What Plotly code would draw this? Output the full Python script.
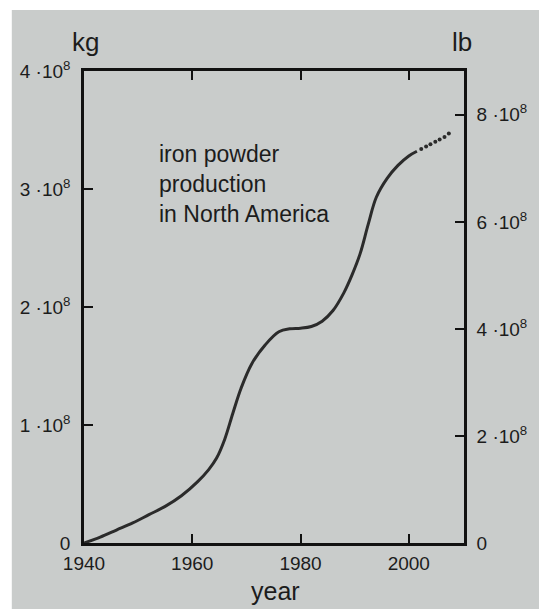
import plotly.graph_objects as go

# ---- data ----
years = [1940, 1943, 1946, 1949, 1952, 1955, 1958, 1961, 1963, 1964.5, 1966, 1967.5,
         1969, 1971, 1973.5, 1976, 1978, 1980, 1982, 1984, 1986, 1988, 1989.5, 1991,
         1992.5, 1994, 1996, 1998, 2000, 2001.5]
production_1e8_kg = [0, 0.05, 0.11, 0.17, 0.24, 0.31, 0.40, 0.52, 0.62, 0.72, 0.88, 1.10,
                     1.31, 1.52, 1.68, 1.79, 1.815, 1.82, 1.835, 1.88, 1.97, 2.12, 2.27, 2.45,
                     2.70, 2.93, 3.09, 3.20, 3.28, 3.32]
est_years = [2002.3, 2003.2, 2004.0, 2004.9, 2005.7, 2006.6, 2007.4]
est_1e8_kg = [3.34, 3.36, 3.38, 3.40, 3.42, 3.44, 3.47]

x_ticks = [1940, 1960, 1980, 2000]
kg_ticks = [0, 1e8, 2e8, 3e8, 4e8]
kg_labels = ["0", "1 ·10<sup>8</sup>", "2 ·10<sup>8</sup>", "3 ·10<sup>8</sup>", "4 ·10<sup>8</sup>"]
lb_ticks = [0, 2e8, 4e8, 6e8, 8e8]
lb_labels = ["0", "2 ·10<sup>8</sup>", "4 ·10<sup>8</sup>", "6 ·10<sup>8</sup>", "8 ·10<sup>8</sup>"]
KG_TO_LB = 2.20462

FONT = "Liberation Sans, Arial, Helvetica, sans-serif"
INK = "#1c1c1c"
PAPER = "#c9cccb"
TICKFONT = dict(size=19, color=INK)

fig = go.Figure()
fig.add_trace(go.Scatter(
    x=years, y=[v * 1e8 for v in production_1e8_kg],
    mode="lines", line=dict(color="#2b2b2b", width=3, shape="spline", smoothing=1.0),
    showlegend=False, hoverinfo="skip"))
fig.add_trace(go.Scatter(
    x=est_years, y=[v * 1e8 for v in est_1e8_kg],
    mode="markers", marker=dict(color="#2b2b2b", size=4),
    showlegend=False, hoverinfo="skip"))
# invisible trace to activate the lb axis
fig.add_trace(go.Scatter(x=[1940], y=[0], yaxis="y2", mode="markers",
                         marker=dict(opacity=0), showlegend=False, hoverinfo="skip"))

axis_common = dict(showline=True, linecolor="#111", linewidth=2.5,
                   ticks="inside", ticklen=9, tickwidth=2, tickcolor="#111",
                   showgrid=False, zeroline=False,
                   tickfont=TICKFONT)

fig.update_layout(
    width=539, height=609,
    margin=dict(l=84, r=68, t=71, b=66),
    paper_bgcolor="white",
    plot_bgcolor="rgba(0,0,0,0)",
    font=dict(family=FONT, color=INK, size=18),
    xaxis=dict(range=[1940, 2010.2], tickvals=x_ticks, ticktext=[str(t) for t in x_ticks],
               mirror="ticks", ticklabelstandoff=1, **axis_common),
    yaxis=dict(range=[0, 4e8], tickvals=kg_ticks, ticktext=kg_labels,
               ticklabelstandoff=7, **axis_common),
    yaxis2=dict(range=[0, 4e8 * KG_TO_LB], tickvals=lb_ticks, ticktext=lb_labels,
                overlaying="y", side="right", ticklabelstandoff=6, **axis_common),
    shapes=[dict(type="rect", xref="paper", yref="paper",
                 x0=-0.19, x1=1.2, y0=-0.15, y1=1.129,
                 fillcolor=PAPER, line=dict(width=0), layer="below")],
    annotations=[
        dict(text="kg", xref="paper", yref="paper", x=0.005, y=1.025,
             xanchor="center", yanchor="bottom", showarrow=False, font=dict(size=26)),
        dict(text="lb", xref="paper", yref="paper", x=0.995, y=1.025,
             xanchor="center", yanchor="bottom", showarrow=False, font=dict(size=26)),
        dict(text="year", xref="paper", yref="paper", x=0.505, y=-0.068,
             xanchor="center", yanchor="top", showarrow=False, font=dict(size=25)),
        dict(text="iron powder<br>production<br>in North America", x=1953.5, y=3.42e8,
             xanchor="left", yanchor="top", align="left", showarrow=False,
             font=dict(size=23)),
    ],
)

fig.write_html("out.html", config={"displayModeBar": False})

# remove the default browser page margin so the figure fills the window exactly
with open("out.html", "r", encoding="utf-8") as f:
    html = f.read()
html = html.replace("<head>", "<head><style>html,body{margin:0;padding:0;overflow:hidden;}</style>", 1)
with open("out.html", "w", encoding="utf-8") as f:
    f.write(html)
